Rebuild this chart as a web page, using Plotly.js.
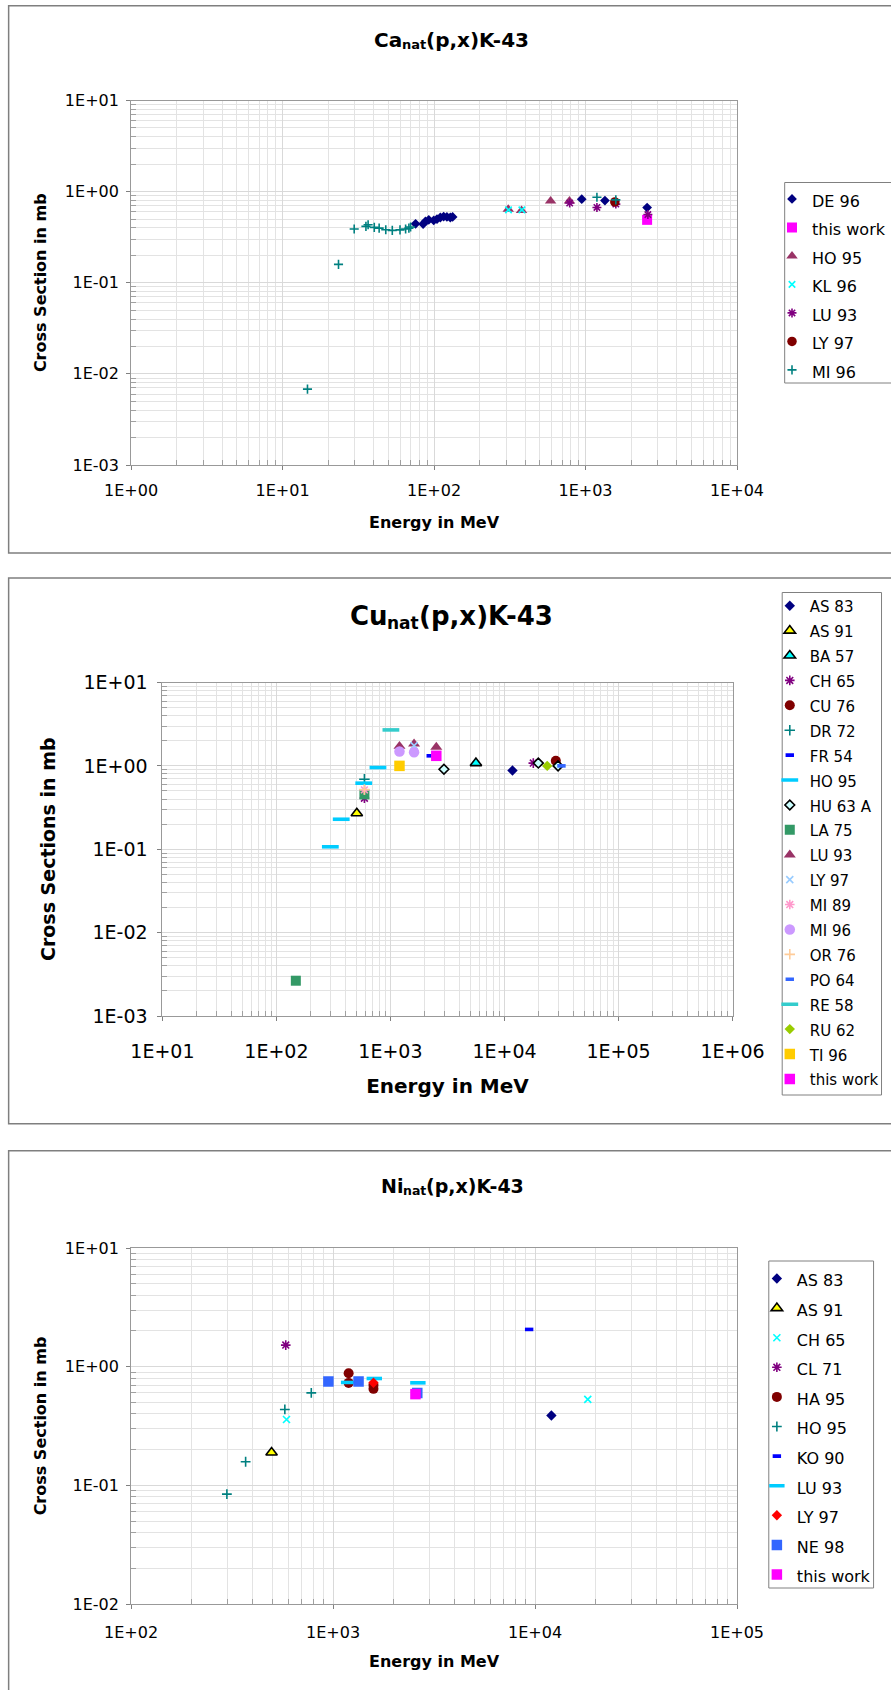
<!DOCTYPE html>
<html>
<head>
<meta charset="utf-8">
<script src="https://cdn.plot.ly/plotly-3.0.1.min.js"></script>
<style>
  html, body { margin: 0; padding: 0; background: #ffffff; overflow: hidden; }
  #chart { width: 891px; height: 1690px; }
</style>
</head>
<body>
<div id="chart"></div>
<script>
// ---------- Ca_nat(p,x)K-43 : energy in MeV, cross section in mb ----------
const caDE96E = [75.5, 84.7, 87.7, 92.3, 99.5, 104.6, 110, 115.7, 121.6, 128, 132.6, 944, 1343, 2550];
const caDE96S = [0.444, 0.441, 0.471, 0.49, 0.483, 0.5, 0.52, 0.533, 0.527, 0.52, 0.527, 0.826, 0.798, 0.669];
const caThisE = [2550];
const caThisS = [0.49];
const caHO95E = [309, 378, 588, 783];
const caHO95S = [0.64, 0.62, 0.79, 0.79];
const caKL96E = [310, 380];
const caKL96S = [0.63, 0.63];
const caLU93E = [786, 1189, 1585, 2580];
const caLU93S = [0.75, 0.67, 0.73, 0.56];
const caLY97E = [1561];
const caLY97S = [0.77];
const caMI96E = [14.6, 23.4, 29.7, 35.5, 36.7, 40.3, 43.4, 48, 53, 59.6, 64.9, 68.2, 70, 1189, 1585];
const caMI96S = [0.0068, 0.159, 0.389, 0.416, 0.433, 0.405, 0.398, 0.382, 0.376, 0.38, 0.389, 0.398, 0.409, 0.869, 0.812];

// ---------- Cu_nat(p,x)K-43 ----------
const cuAS83E = [11750];          const cuAS83S = [0.88];
const cuAS91E = [507];            const cuAS91S = [0.27];
const cuBA57E = [5620];           const cuBA57S = [1.08];
const cuCH65E = [591, 17900];     const cuCH65S = [0.41, 1.08];
const cuCU76E = [28200];          const cuCU76S = [1.15];
const cuDR72E = [591];            const cuDR72S = [0.69];
const cuFR54E = [2255];           const cuFR54S = [1.32];
const cuHO95E = [297, 370, 583, 777];
const cuHO95S = [0.107, 0.229, 0.62, 0.955];
const cuHU63E = [2945, 19800, 29500];
const cuHU63S = [0.91, 1.08, 1.0];
const cuLA75E = [148, 591];       const cuLA75S = [0.00265, 0.455];
const cuLU93E = [1200, 1611, 2524];
const cuLU93S = [1.72, 1.84, 1.68];
const cuLY97E = [1611];           const cuLY97S = [1.75];
const cuMI89E = [591];            const cuMI89S = [0.515];
const cuMI96E = [1200, 1611];     const cuMI96S = [1.49, 1.46];
const cuOR76E = [591];            const cuOR76S = [0.52];
const cuPO64E = [31600];          const cuPO64S = [1.0];
const cuRE58E = [1009];           const cuRE58S = [2.7];
const cuRU62E = [23700];          const cuRU62S = [1.0];
const cuTI96E = [1200];           const cuTI96S = [1.0];
const cuThisE = [2524];           const cuThisS = [1.32];

// ---------- Ni_nat(p,x)K-43 ----------
const niAS83E = [12050];          const niAS83S = [0.388];
const niAS91E = [496];            const niAS91S = [0.189];
const niCH65E = [588, 18240];     const niCH65S = [0.359, 0.53];
const niCL71E = [583];            const niCL71S = [1.52];
const niHA95E = [1194, 1194, 1585, 1585];
const niHA95S = [0.88, 0.73, 0.70, 0.65];
const niHO95E = [298, 369, 577, 780];
const niHO95S = [0.0843, 0.158, 0.436, 0.601];
const niKO90E = [9350];           const niKO90S = [2.06];
const niLU93E = [1194, 1600, 2630];
const niLU93S = [0.736, 0.795, 0.731];
const niLY97E = [1585];           const niLY97S = [0.731];
const niNE98E = [948, 1337, 2612];
const niNE98S = [0.75, 0.75, 0.60];
const niThisE = [2558];           const niThisS = [0.587];

// ---------- page geometry helpers (pixels -> paper fractions) ----------
const W = 891, H = 1690;
const px = v => v / W;
const py = v => 1 - v / H;
const FAMILY = 'DejaVu Sans';
const FONT = 'DejaVu Sans, Liberation Sans, Arial, sans-serif';

// marker styles
const S = {
  diamond:  (c, s) => ({ symbol: 'diamond', color: c, size: s, line: { width: 0 } }),
  square:   (c, s) => ({ symbol: 'square', color: c, size: s, line: { width: 0 } }),
  circle:   (c, s) => ({ symbol: 'circle', color: c, size: s, line: { width: 0 } }),
  tri:      (c, s) => ({ symbol: 'triangle-up', color: c, size: s, line: { width: 0 } }),
  triEdge:  (c, s) => ({ symbol: 'triangle-up', color: c, size: s, line: { color: '#000000', width: 1.6 } }),
  diaEdge:  (c, s) => ({ symbol: 'diamond', color: c, size: s, line: { color: '#000000', width: 1.6 } }),
  cross:    (c, s) => ({ symbol: 'cross-thin-open', color: c, size: s, line: { color: c, width: 1.6 } }),
  xmark:    (c, s) => ({ symbol: 'x-thin-open', color: c, size: s, line: { color: c, width: 1.6 } }),
  star:     (c, s) => ({ symbol: 'asterisk-open', color: c, size: s, line: { color: c, width: 1.6 } }),
  dash:     (c, s) => ({ symbol: 'line-ew-open', color: c, size: s, line: { color: c, width: 3.6 } })
};

function series(name, E, Sg, marker, n, legendId, textSize) {
  const sfx = n === 1 ? '' : String(n);
  return {
    type: 'scatter', mode: 'markers', x: E, y: Sg,
    xaxis: 'x' + sfx, yaxis: 'y' + sfx,
    name: '<span style="font-size:' + textSize + 'px">' + name + '</span>',
    legend: legendId, marker: marker, cliponaxis: false,
    hovertemplate: name + ': %{x} MeV, %{y} mb<extra></extra>'
  };
}

const traces = [
  // Ca panel
  series('DE 96', caDE96E, caDE96S, S.diamond('#000080', 7.5), 1, 'legend', 16),
  series('this work', caThisE, caThisS, S.square('#FF00FF', 10), 1, 'legend', 16),
  series('HO 95', caHO95E, caHO95S, S.tri('#993366', 10), 1, 'legend', 16),
  series('KL 96', caKL96E, caKL96S, S.xmark('#00FFFF', 6.5), 1, 'legend', 16),
  series('LU 93', caLU93E, caLU93S, S.star('#800080', 7.5), 1, 'legend', 16),
  series('LY 97', caLY97E, caLY97S, S.circle('#800000', 9.5), 1, 'legend', 16),
  series('MI 96', caMI96E, caMI96S, S.cross('#008080', 6.5), 1, 'legend', 16),
  // Cu panel
  series('AS 83', cuAS83E, cuAS83S, S.diamond('#000080', 8), 2, 'legend2', 15),
  series('AS 91', cuAS91E, cuAS91S, S.triEdge('#FFFF00', 10), 2, 'legend2', 15),
  series('BA 57', cuBA57E, cuBA57S, S.triEdge('#00FFFF', 10), 2, 'legend2', 15),
  series('CH 65', cuCH65E, cuCH65S, S.star('#800080', 8), 2, 'legend2', 15),
  series('CU 76', cuCU76E, cuCU76S, S.circle('#800000', 10), 2, 'legend2', 15),
  series('DR 72', cuDR72E, cuDR72S, S.cross('#008080', 7.5), 2, 'legend2', 15),
  series('FR 54', cuFR54E, cuFR54S, S.dash('#0000FF', 6), 2, 'legend2', 15),
  series('HO 95', cuHO95E, cuHO95S, S.dash('#00CCFF', 12), 2, 'legend2', 15),
  series('HU 63 A', cuHU63E, cuHU63S, S.diaEdge('#CCFFFF', 7.5), 2, 'legend2', 15),
  series('LA 75', cuLA75E, cuLA75S, S.square('#339966', 10), 2, 'legend2', 15),
  series('LU 93', cuLU93E, cuLU93S, S.tri('#993366', 10.5), 2, 'legend2', 15),
  series('LY 97', cuLY97E, cuLY97S, S.xmark('#99CCFF', 7), 2, 'legend2', 15),
  series('MI 89', cuMI89E, cuMI89S, S.star('#FF99CC', 8), 2, 'legend2', 15),
  series('MI 96', cuMI96E, cuMI96S, S.circle('#CC99FF', 10.5), 2, 'legend2', 15),
  series('OR 76', cuOR76E, cuOR76S, S.cross('#FFCC99', 7.5), 2, 'legend2', 15),
  series('PO 64', cuPO64E, cuPO64S, S.dash('#3366FF', 6), 2, 'legend2', 15),
  series('RE 58', cuRE58E, cuRE58S, S.dash('#33CCCC', 12), 2, 'legend2', 15),
  series('RU 62', cuRU62E, cuRU62S, S.diamond('#99CC00', 8), 2, 'legend2', 15),
  series('TI 96', cuTI96E, cuTI96S, S.square('#FFCC00', 10.5), 2, 'legend2', 15),
  series('this work', cuThisE, cuThisS, S.square('#FF00FF', 10.5), 2, 'legend2', 15),
  // Ni panel
  series('AS 83', niAS83E, niAS83S, S.diamond('#000080', 8), 3, 'legend3', 16),
  series('AS 91', niAS91E, niAS91S, S.triEdge('#FFFF00', 10), 3, 'legend3', 16),
  series('CH 65', niCH65E, niCH65S, S.xmark('#00FFFF', 7), 3, 'legend3', 16),
  series('CL 71', niCL71E, niCL71S, S.star('#800080', 8), 3, 'legend3', 16),
  series('HA 95', niHA95E, niHA95S, S.circle('#800000', 10), 3, 'legend3', 16),
  series('HO 95', niHO95E, niHO95S, S.cross('#008080', 7), 3, 'legend3', 16),
  series('KO 90', niKO90E, niKO90S, S.dash('#0000FF', 6), 3, 'legend3', 16),
  series('LU 93', niLU93E, niLU93S, S.dash('#00CCFF', 11), 3, 'legend3', 16),
  series('LY 97', niLY97E, niLY97S, S.diamond('#FF0000', 8), 3, 'legend3', 16),
  series('NE 98', niNE98E, niNE98S, S.square('#3366FF', 10.5), 3, 'legend3', 16),
  series('this work', niThisE, niThisS, S.square('#FF00FF', 10.5), 3, 'legend3', 16)
];

// decade tick labels written as 1E+01, 1E-02 ...
function decadeLabel(e) {
  const a = Math.abs(e);
  return '1E' + (e < 0 ? '-' : '+') + (a < 10 ? '0' : '') + a;
}
function logAxis(lo, hi, domain, anchor, fontSize, standoff, titleText, titleSize, titleStandoff) {
  const vals = [], text = [], minor = [];
  for (let e = lo; e <= hi; e++) {
    vals.push(Math.pow(10, e));
    text.push(decadeLabel(e));
    if (e < hi) for (let k = 2; k <= 9; k++) minor.push(k * Math.pow(10, e));
  }
  return {
    type: 'log', range: [lo, hi], domain: domain, anchor: anchor,
    tickmode: 'array', tickvals: vals, ticktext: text,
    ticks: 'outside', ticklen: 4, tickcolor: '#808080', tickwidth: 1,
    ticklabelstandoff: standoff,
    tickfont: { family: FONT, size: fontSize, color: '#000000' },
    showgrid: true, gridcolor: '#D9D9D9', gridwidth: 1,
    minor: { tickmode: 'array', tickvals: minor, showgrid: true, gridcolor: '#E3E3E3', gridwidth: 1,
             ticks: 'inside', ticklen: 5, tickcolor: '#A0A0A0' },
    showline: true, linecolor: '#999999', linewidth: 1, mirror: true,
    zeroline: false, automargin: false, fixedrange: true,
    title: { text: titleText, standoff: titleStandoff,
             font: { family: FONT, size: titleSize, weight: 'bold', color: '#000000' } }
  };
}

// Chart headings "Xx_nat(p,x)K-43": element name, smaller lowered "nat", then the reaction.
const measureCtx = document.createElement('canvas').getContext('2d');
function textWidth(str, size) {
  measureCtx.font = 'bold ' + size + 'px "' + FAMILY + '"';
  return measureCtx.measureText(str).width;
}
function heading(elem, rest, size, subSize, drop, cx, cy) {
  const w1 = textWidth(elem, size), w2 = textWidth('nat', subSize), w3 = textWidth(rest, size);
  const left = cx - (w1 + w2 + w3) / 2;
  const base = { xref: 'paper', yref: 'paper', xanchor: 'left', yanchor: 'middle',
                 showarrow: false, borderpad: 0, y: py(cy) };
  const f = s => ({ family: FONT, size: s, weight: 'bold', color: '#000000' });
  const subShift = -(0.346 * size + drop - 0.346 * subSize);
  return [
    Object.assign({}, base, { x: px(left), text: elem, font: f(size) }),
    Object.assign({}, base, { x: px(left + w1), text: 'nat', font: f(subSize), yshift: subShift }),
    Object.assign({}, base, { x: px(left + w1 + w2), text: rest, font: f(size) })
  ];
}

const annotations = [].concat(
  heading('Ca', '(p,x)K-43', 20, 13, 2, 453, 40),
  heading('Cu', '(p,x)K-43', 26, 17, 4, 453, 616),
  heading('Ni', '(p,x)K-43', 19, 12.5, 2, 454, 1186)
);

const frame = (x0, x1, y0, y1, color, width) => ({
  type: 'rect', xref: 'paper', yref: 'paper', x0: px(x0), x1: px(x1), y0: py(y0), y1: py(y1),
  line: { color: color, width: width }, fillcolor: 'rgba(0,0,0,0)', layer: 'below'
});

const layout = {
  width: W, height: H,
  margin: { l: 0, r: 0, t: 0, b: 0, pad: 0 },
  paper_bgcolor: '#FFFFFF', plot_bgcolor: '#FFFFFF',
  font: { family: FONT, color: '#000000' },
  hovermode: 'closest',

  xaxis:  logAxis(0, 4, [px(132), px(742)], 'y', 16, 7, 'Energy in MeV', 16, 17),
  yaxis:  logAxis(-3, 1, [py(465), py(100.5)], 'x', 16, 4, 'Cross Section in mb', 16, 14),
  xaxis2: logAxis(1, 6, [px(163.5), px(737.5)], 'y2', 19, 14, 'Energy in MeV', 20, 18),
  yaxis2: logAxis(-3, 1, [py(1016), py(682.5)], 'x2', 19, 6, 'Cross Sections in mb', 19, 22),
  xaxis3: logAxis(2, 5, [px(132), px(742)], 'y3', 16, 10, 'Energy in MeV', 16, 14),
  yaxis3: logAxis(-2, 1, [py(1604), py(1248)], 'x3', 16, 4, 'Cross Section in mb', 16, 14),

  legend:  { x: px(777.5), y: py(179.75), xanchor: 'left', yanchor: 'top',
             bgcolor: 'rgba(0,0,0,0)', borderwidth: 0, tracegroupgap: 0,
             font: { family: FONT, size: 19.6, color: '#000000' } },
  legend2: { x: px(775), y: py(588.25), xanchor: 'left', yanchor: 'top',
             bgcolor: 'rgba(0,0,0,0)', borderwidth: 0, tracegroupgap: 0,
             font: { family: FONT, size: 16.85, color: '#000000' } },
  legend3: { x: px(762), y: py(1258.7), xanchor: 'left', yanchor: 'top',
             bgcolor: 'rgba(0,0,0,0)', borderwidth: 0, tracegroupgap: 0,
             font: { family: FONT, size: 20.46, color: '#000000' } },

  annotations: annotations,

  shapes: [
    // panel frames
    frame(8.7, 905, 5.7, 553, '#7F7F7F', 1.5),
    frame(8.7, 905, 578, 1123.7, '#7F7F7F', 1.5),
    frame(8.7, 905, 1150.7, 1710, '#7F7F7F', 1.5),
    // legend frames
    frame(790, 905, 182.5, 383, '#808080', 1),
    frame(787.5, 887.5, 592.5, 1095, '#808080', 1),
    frame(774, 879.5, 1261, 1588, '#808080', 1)
  ]
};

Plotly.newPlot('chart', traces, layout, { staticPlot: true, displayModeBar: false });
</script>
</body>
</html>
